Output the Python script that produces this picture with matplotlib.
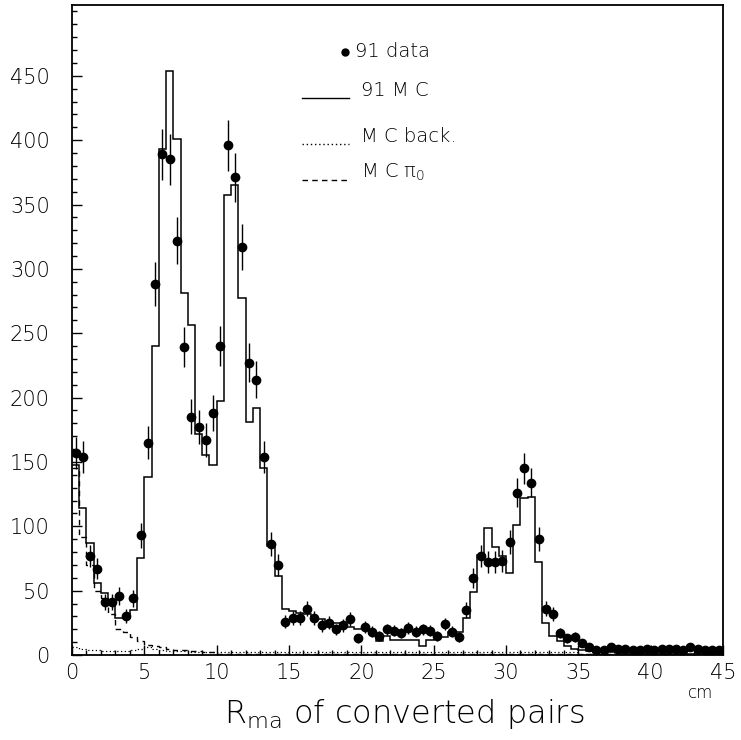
#!/usr/bin/env python
# Radius of photon conversion vertices: 91 data compared with the MC sum,
# the MC background and the MC pi0 component.

import numpy as np
import matplotlib

matplotlib.use("Agg")
from matplotlib import pyplot as plt  # noqa: E402

# 0.5 cm bins from 0 to 45 cm
bin_width = 0.5
n_bins = 90

# 91 data, entries per bin
data_counts = [
    157, 154, 77, 67, 41, 41, 46, 30, 44, 93,
    165, 288, 389, 385, 322, 239, 185, 177, 167, 188,
    240, 396, 371, 317, 227, 214, 154, 86, 70, 26,
    29, 29, 36, 29, 23, 25, 20, 23, 28, 13,
    22, 18, 15, 20, 19, 17, 21, 18, 20, 19,
    15, 24, 18, 14, 35, 60, 77, 72, 72, 73,
    88, 126, 145, 134, 90, 36, 32, 17, 13, 14,
    9, 6, 4, 4, 6, 4.5, 4.5, 4, 3.5, 4.5,
    4, 4.5, 5, 4.5, 4, 6, 5, 4, 4, 4,
]

# 91 MC, normalised to the data
mc_counts = [
    148, 114, 87, 56, 48, 40, 29, 29, 35, 75,
    138, 240, 393, 454, 401, 281, 256, 172, 155, 148,
    197, 357, 365, 277, 181, 192, 145, 85, 61, 36,
    34, 33, 32, 28, 28, 26, 25, 23, 22, 20,
    20, 16, 11, 15, 12, 12, 12, 12, 7, 12,
    14, 14, 18, 18, 29, 49, 78, 99, 84, 77,
    64, 101, 122, 123, 72, 25, 15, 11, 7, 5,
    4, 3, 2, 2, 2, 1.5, 1.5, 1.5, 1.5, 1,
    1, 1, 1, 1, 1, 1, 1, 1, 1, 1,
]

# MC background (non-conversion pairs)
mc_back = [
    6, 5, 4, 4, 3, 3, 3, 3, 4, 5,
    6, 5, 4, 3, 3, 3, 2, 2, 2, 2,
    2, 2, 2, 2, 2, 2, 2, 2, 2, 2,
    2, 2, 2, 2, 2, 2, 2, 2, 2, 2,
    2, 2, 2, 2, 2, 2, 2, 2, 2, 2,
    2, 2, 2, 2, 2, 2, 2, 2, 2, 2,
    2, 2, 2, 2, 2, 2, 2, 2, 2, 2,
    1, 1, 1, 1, 1, 1, 1, 1, 1, 1,
    1, 1, 1, 1, 1, 1, 1, 1, 1, 1,
]

# MC pi0 Dalitz pairs
mc_pi0 = [
    145, 92, 70, 50, 44, 32, 20, 18, 14, 11,
    8, 7, 6, 5, 4, 4, 3, 3, 2, 2,
    1, 1, 1, 1, 1, 1, 1, 1, 1, 1,
    1, 1, 1, 1, 1, 1, 1, 1, 1, 1,
    0.5, 0.5, 0.5, 0.5, 0.5, 0.5, 0.5, 0.5, 0.5, 0.5,
    0.5, 0.5, 0.5, 0.5, 0.5, 0.5, 0.5, 0.5, 0.5, 0.5,
    0.5, 0.5, 0.5, 0.5, 0.5, 0.5, 0.5, 0.5, 0.5, 0.5,
    0.5, 0.5, 0.5, 0.5, 0.5, 0.5, 0.5, 0.5, 0.5, 0.5,
    0.5, 0.5, 0.5, 0.5, 0.5, 0.5, 0.5, 0.5, 0.5, 0.5,
]

y_ticks = [0, 50, 100, 150, 200, 250, 300, 350, 400, 450]
x_ticks = [0, 5, 10, 15, 20, 25, 30, 35, 40, 45]

FONT = dict(family="DejaVu Sans", weight=200)

# thin face for the subscripts as well
plt.rcParams["mathtext.fontset"] = "custom"
plt.rcParams["mathtext.rm"] = "DejaVu Sans:weight=200"
plt.rcParams["mathtext.it"] = "DejaVu Sans:italic"
plt.rcParams["mathtext.bf"] = "DejaVu Sans:weight=200"


def main():
    edges = np.arange(n_bins + 1) * bin_width
    centers = edges[:-1] + bin_width / 2
    data = np.array(data_counts, dtype=float)

    fig = plt.figure(figsize=(7.41, 7.40), dpi=100)
    ax = fig.add_axes([72 / 741, 85 / 740, 651 / 741, 650 / 740])

    ax.stairs(mc_counts, edges, color="black", linewidth=1.1, baseline=None)
    ax.stairs(mc_back, edges, color="black", linewidth=0.9,
              linestyle=(0, (1, 2)), baseline=None)
    ax.stairs(mc_pi0, edges, color="black", linewidth=1.0,
              linestyle=(0, (4, 3)), baseline=None)
    ax.errorbar(centers, data, yerr=np.sqrt(data), fmt="o", color="black",
                markersize=6, elinewidth=1.0, capsize=0)

    ax.set_xlim(0, 45)
    ax.set_ylim(0, 505)
    ax.set_xticks(x_ticks)
    ax.set_xticks(np.arange(0, 46, 1), minor=True)
    ax.set_yticks(y_ticks)
    ax.set_yticks(np.arange(0, 501, 10), minor=True)
    ax.tick_params(which="both", direction="in", top=False, right=False,
                   width=1.0)
    ax.tick_params(which="major", length=7)
    ax.tick_params(which="minor", length=3.5)
    ax.tick_params(axis="x", pad=6)
    ax.tick_params(axis="y", pad=16)
    for lab in ax.get_xticklabels() + ax.get_yticklabels():
        lab.set_fontsize(15)
        lab.set_fontfamily(FONT["family"])
        lab.set_fontweight(FONT["weight"])
    for spine in ax.spines.values():
        spine.set_linewidth(1.3)

    ax.text(0.985, -0.058, "cm", transform=ax.transAxes, ha="right",
            va="center", fontsize=12, **FONT)
    fig.text(0.545, 0.035, r"R$_{\mathrm{ma}}$ of converted pairs",
             ha="center", va="center", fontsize=23, **FONT)

    # legend drawn by hand, one row per sample
    tr = ax.transAxes
    ax.plot([0.420], [0.928], "o", color="black", markersize=5, transform=tr)
    ax.text(0.435, 0.928, "91 data", transform=tr, va="center",
            fontsize=14, **FONT)
    rows = [
        ("91 M C", "-", 0.868),
        ("M C back.", (0, (1, 2)), 0.797),
        ("M C π$_{0}$", (0, (4, 3)), 0.742),
    ]
    for label, style, y in rows:
        ax.plot([0.354, 0.426], [y - 0.011, y - 0.011], color="black",
                linestyle=style, linewidth=1.0, transform=tr)
        ax.text(0.444, y, label, transform=tr, va="center", fontsize=14,
                **FONT)

    fig.savefig("out.png", dpi=100)


if __name__ == "__main__":
    main()
